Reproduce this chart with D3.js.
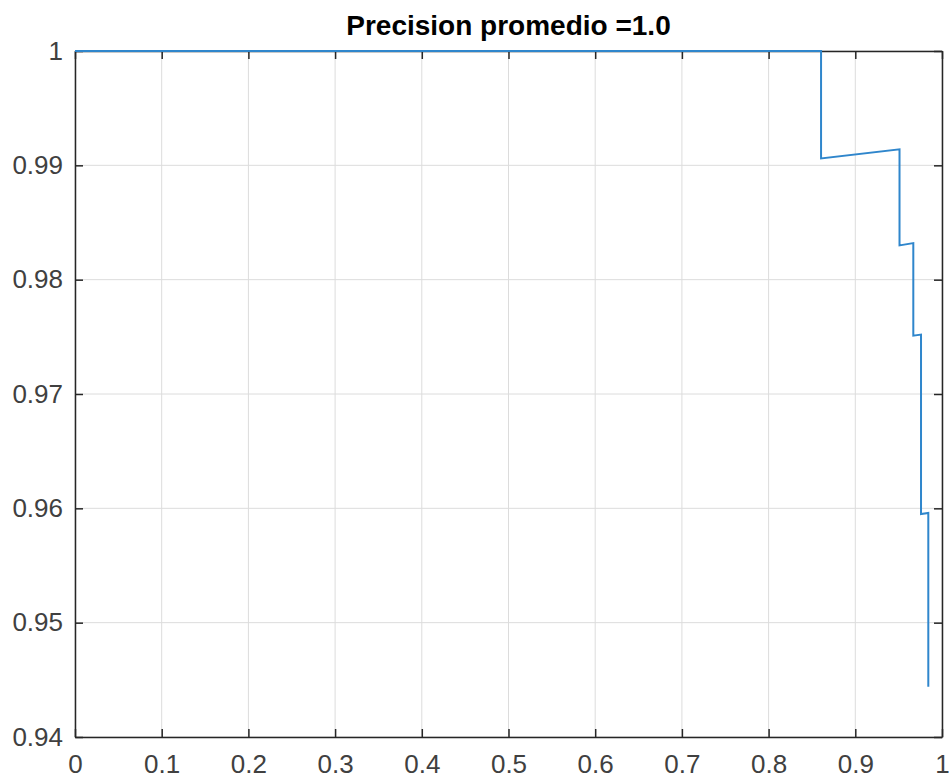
<!DOCTYPE html>
<html>
<head>
<meta charset="utf-8">
<script src="https://cdn.jsdelivr.net/npm/d3@7"></script>
<style>
  body { margin: 0; background: #fff; }
  svg { display: block; font-family: Arial, "Liberation Sans", Helvetica, sans-serif; }
  .tick text { fill: #404040; font-size: 26px; }
  .grid line { stroke: #dcdcdc; stroke-width: 1; }
</style>
</head>
<body>
<svg id="chart" width="949" height="781"></svg>
<script>
// recall / precision pairs
var recall    = [0, 0.8605, 0.8605, 0.951, 0.951, 0.9669, 0.9669, 0.9758, 0.9758, 0.9842, 0.9842];
var precision = [1, 1,      0.9906, 0.9914, 0.9830, 0.9832, 0.9751, 0.9752, 0.9595, 0.9596, 0.9444];
var xTicks = [0, 0.1, 0.2, 0.3, 0.4, 0.5, 0.6, 0.7, 0.8, 0.9, 1];
var yTicks = [0.94, 0.95, 0.96, 0.97, 0.98, 0.99, 1];
var title = "Precision promedio =1.0";

var svg = d3.select("#chart");
var mLeft = 75, mRight = 942, mTop = 51, mBottom = 737;

var x = d3.scaleLinear().domain([0, 1]).range([mLeft, mRight]);
var y = d3.scaleLinear().domain([0.94, 1]).range([mBottom, mTop]);

/* grid lines */
var grid = svg.append("g").attr("class", "grid");
grid.selectAll(".gx").data(xTicks).enter().append("line")
    .attr("x1", d => x(d)).attr("x2", d => x(d))
    .attr("y1", mTop).attr("y2", mBottom);
grid.selectAll(".gy").data(yTicks).enter().append("line")
    .attr("x1", mLeft).attr("x2", mRight)
    .attr("y1", d => y(d)).attr("y2", d => y(d));

/* axes, ticks point inward like matlab */
var fmtX = d => d === 0 || d === 1 ? String(d) : d3.format(".1f")(d);
var fmtY = d => d === 1 ? "1" : d3.format(".2f")(d);

svg.append("g").attr("transform", `translate(0,${mBottom})`)
    .call(d3.axisBottom(x).tickValues(xTicks).tickFormat(fmtX).tickSizeInner(-8).tickSizeOuter(0).tickPadding(18));
svg.append("g").attr("transform", `translate(0,${mTop})`)
    .call(d3.axisTop(x).tickValues(xTicks).tickFormat("").tickSizeInner(-8).tickSizeOuter(0));
svg.append("g").attr("transform", `translate(${mLeft},0)`)
    .call(d3.axisLeft(y).tickValues(yTicks).tickFormat(fmtY).tickSizeInner(-8).tickSizeOuter(0).tickPadding(12));
svg.append("g").attr("transform", `translate(${mRight},0)`)
    .call(d3.axisRight(y).tickValues(yTicks).tickFormat("").tickSizeInner(-8).tickSizeOuter(0));

svg.selectAll(".domain").attr("stroke", "#262626").attr("stroke-width", 1.5);
svg.selectAll(".tick line").attr("stroke", "#262626").attr("stroke-width", 1.5);

/* the curve */
var pts = recall.map((r, i) => [r, precision[i]]);
svg.append("path")
    .datum(pts)
    .attr("fill", "none")
    .attr("stroke", "#2f86cc")
    .attr("stroke-width", 2)
    .attr("d", d3.line().x(d => x(d[0])).y(d => y(d[1])));

svg.append("text")
    .attr("x", (mLeft + mRight) / 2)
    .attr("y", 35)
    .attr("text-anchor", "middle")
    .style("font-size", "28px")
    .style("font-weight", "bold")
    .attr("fill", "#000")
    .text(title);
</script>
</body>
</html>
